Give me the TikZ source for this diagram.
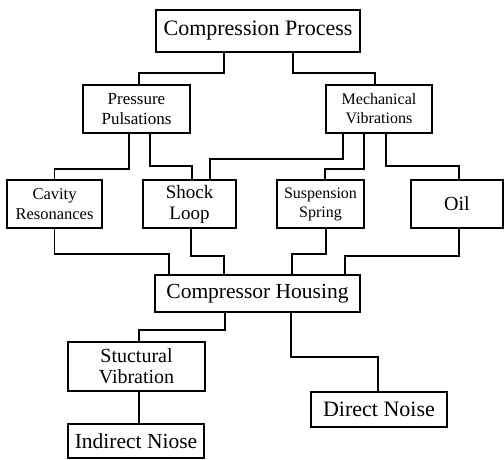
\documentclass[tikz,border=0pt]{standalone}
\usepackage{fontspec}
\setmainfont{Liberation Serif}
\usetikzlibrary{positioning}
\tikzset{
  basic/.style  = {draw, rectangle, line width=1.5pt, align=center, inner sep=0pt},
  big/.style    = {basic, font=\fontsize{22}{24}\selectfont},
  mid/.style    = {basic, font=\fontsize{17}{20}\selectfont},
  small/.style  = {basic, font=\fontsize{16}{19}\selectfont},
  link/.style   = {draw, line width=1.5pt}
}
\begin{document}
\begin{tikzpicture}[x=1pt, y=-1pt]
\useasboundingbox (0,0) rectangle (504,459);

% top of the chart
\node[big, minimum width=204pt, minimum height=42pt] (c0) at (258,31) {Compression Process};

% the two sources
\node[mid, minimum width=107pt, minimum height=48pt] (c1) at (136.5,109) {Pressure\\Pulsations};
\node[small, minimum width=106pt, minimum height=48pt] (c2) at (379,109) {Mechanical\\Vibrations};

% the paths
\node[small, font=\fontsize{16.5}{20}\selectfont, minimum width=95pt, minimum height=48pt] (c11) at (54.5,204) {Cavity\\Resonances};
\node[mid, font=\fontsize{19}{21}\selectfont, minimum width=93pt, minimum height=48pt] (c12) at (189.5,204) {Shock\\Loop};
\node[small, minimum width=87pt, minimum height=48pt] (c21) at (320.5,204) {Suspension\\Spring};
\node[big, font=\fontsize{20}{22}\selectfont, minimum width=92pt, minimum height=48pt] (c22) at (457,204) {Oil};

% housing and the noise
\node[big, font=\fontsize{21.5}{24}\selectfont, minimum width=205pt, minimum height=37pt] (h) at (257.5,293.5) {Compressor Housing};
\node[big, font=\fontsize{20}{21}\selectfont, minimum width=137pt, minimum height=49pt] (h1) at (136.5,366.5) {Stuctural\\Vibration};
\node[big, font=\fontsize{21.5}{24}\selectfont, minimum width=136pt, minimum height=34pt] (h11) at (136,441) {Indirect Niose};
\node[big, minimum width=136pt, minimum height=35pt] (h2) at (379,409.5) {Direct Noise};

% connectors, top part
\draw[link] ([xshift=-34pt]c0.south) -- ++(0,20) -| ([xshift=2.5pt]c1.north);
\draw[link] ([xshift=35pt]c0.south) -- ++(0,20) -| ([xshift=-4pt]c2.north);
\draw[link] ([xshift=-7.5pt]c1.south) -- ++(0,35) -| (c11.north);
\draw[link] ([xshift=13.5pt]c1.south) -- ++(0,32) -| ([xshift=2.5pt]c12.north);
\draw[link] ([xshift=-36pt]c2.south) -- ++(0,25) -| ([xshift=20.5pt]c12.north);
\draw[link] ([xshift=-15pt]c2.south) -- ++(0,35) -| ([xshift=4.5pt]c21.north);
\draw[link] ([xshift=7pt]c2.south) -- ++(0,32) -| ([xshift=2pt]c22.north);

% connectors into the housing
\draw[link] (c11.south) -- ++(0,25) -| ([xshift=-88.5pt]h.north);
\draw[link] ([xshift=1.5pt]c12.south) -- ++(0,27) -| ([xshift=-33.5pt]h.north);
\draw[link] ([xshift=5.5pt]c21.south) -- ++(0,25) -| ([xshift=34.5pt]h.north);
\draw[link] ([xshift=2pt]c22.south) -- ++(0,27) -| ([xshift=87.5pt]h.north);

% connectors, bottom part
\draw[link] ([xshift=-32.5pt]h.south) -- ++(0,17) -| ([xshift=2.5pt]h1.north);
\draw[link] ([xshift=33.5pt]h.south) -- ++(0,44) -| ([xshift=-1pt]h2.north);
\draw[link] ([xshift=2.5pt]h1.south) -- ([xshift=3pt]h11.north);
\end{tikzpicture}
\end{document}
